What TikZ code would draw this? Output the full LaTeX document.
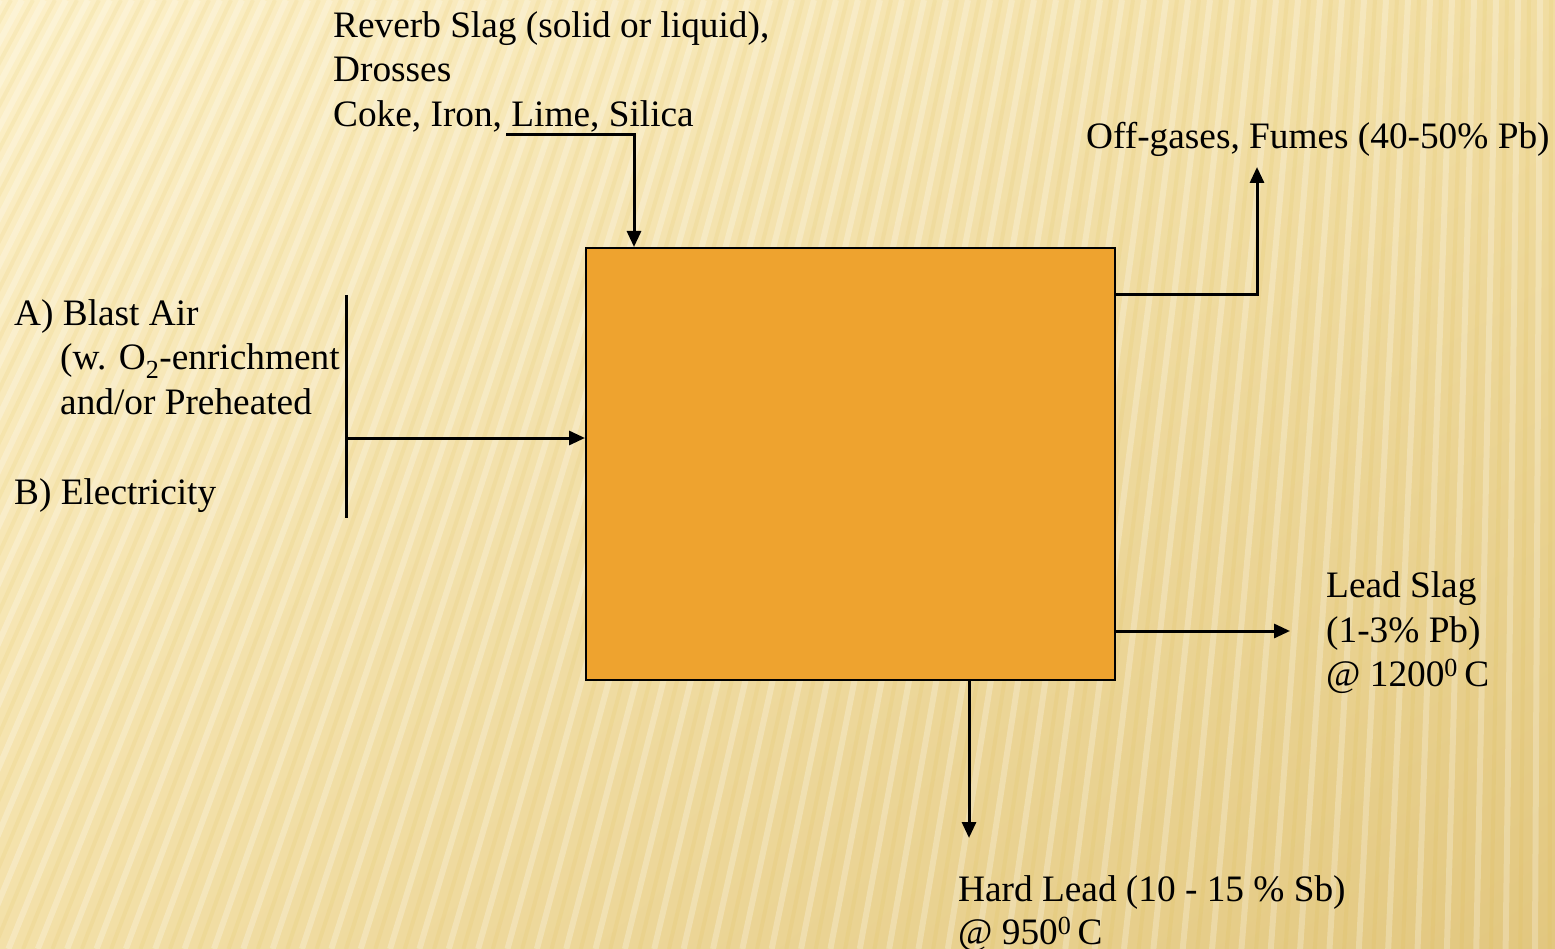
\documentclass[tikz,border=0pt]{standalone}
\usepackage{fontspec}
\setmainfont{Liberation Serif}
\usetikzlibrary{arrows.meta,shadings}
\definecolor{boxfill}{HTML}{EEA32F}
\definecolor{bgUL}{HTML}{FCF0C9}
\definecolor{bgUR}{HTML}{F1DDA2}
\definecolor{bgLL}{HTML}{F3E0A8}
\definecolor{bgLR}{HTML}{E2C77F}
\tikzset{
  lbl/.style={anchor=base west, inner sep=0pt, font=\fontsize{37.3}{44}\selectfont},
  flow/.style={line width=3pt, -{Triangle[length=16pt,width=14pt]}},
  plain/.style={line width=3pt},
  furnace/.style={draw=black, line width=2.2pt, fill=boxfill, anchor=north west,
    minimum width=529pt, minimum height=432pt, inner sep=0pt}
}
\begin{document}
\begin{tikzpicture}[x=1pt,y=-1pt]
\useasboundingbox (0,0) rectangle (1555,949);
% background
\shade[upper left=bgUL, upper right=bgUR, lower left=bgLL, lower right=bgLR] (0,0) rectangle (1555,949);
\begin{scope}
\clip (0,0) rectangle (1555,949);
\foreach \x in {0,22,...,2100} {
  \draw[white, opacity=0.25, line width=6pt] (\x,0) -- ({\x-520*(1-\x/1555)},949);
  \draw[brown!60!yellow, opacity=0.09, line width=4pt] (\x+11,0) -- ({\x+11-520*(1-(\x+11)/1555)},949);
}
\end{scope}

% furnace box
\node[furnace] (box) at (585,247) {};

% top feed
\node[lbl] (feed1) at (333,38) {Reverb Slag (solid or liquid),};
\node[lbl] (feed2) at (333,82) {Drosses};
\node[lbl] (feed3) at (333,127) {Coke, Iron, Lime, Silica};
\coordinate (feedstart) at (506,135);
\coordinate (feedcorner) at (634,135);
\draw[flow] (feedstart) -- (feedcorner) -- (feedcorner |- box.north);

% left inputs
\node[lbl] (air1) at (14,326) {A) Blast Air};
\node[lbl] (air2) at (60,370) {(w. O\textsubscript{2}-enrichment};
\node[lbl] (air3) at (60,414) {and/or Preheated};
\node[lbl] (elec) at (14,504) {B) Electricity};
\coordinate (bartop) at (346,295);
\coordinate (barbot) at (346,518);
\coordinate (barmid) at (346,438);
\draw[plain] (bartop) -- (barbot);
\draw[flow] (barmid) -- (barmid -| box.west);

% off-gases
\node[lbl] (gas) at (1086,149) {Off-gases, Fumes (40-50\% Pb)};
\coordinate (gasout) at (1114,295);
\coordinate (gascorner) at (1257,295);
\coordinate (gastip) at (1257,167);
\draw[flow] (gasout) -- (gascorner) -- (gastip);

% lead slag
\node[lbl] (slag1) at (1326,597) {Lead Slag};
\node[lbl] (slag2) at (1326,642) {(1-3\% Pb)};
\node[lbl] (slag3) at (1326,686) {@ 1200\textsuperscript{0}\,C};
\coordinate (slagout) at (1114,631);
\coordinate (slagtip) at (1290,631);
\draw[flow] (slagout) -- (slagtip);

% hard lead
\node[lbl] (hard1) at (958,901) {Hard Lead (10 - 15 \% Sb)};
\node[lbl] (hard2) at (958,944) {@ 950\textsuperscript{0}\,C};
\coordinate (hardout) at (969,679);
\coordinate (hardtip) at (969,838);
\draw[flow] (hardout) -- (hardtip);
\end{tikzpicture}
\end{document}
